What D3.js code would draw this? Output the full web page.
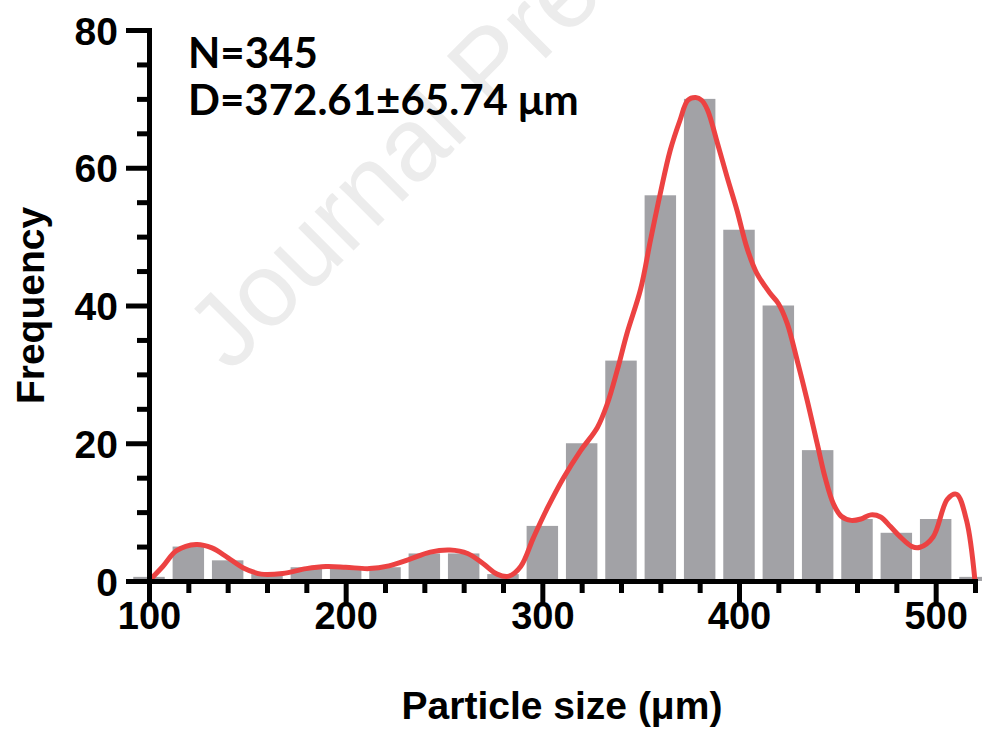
<!DOCTYPE html>
<html>
<head>
<meta charset="utf-8">
<script src="https://cdn.jsdelivr.net/npm/d3@7"></script>
<style>
  body { margin: 0; background: #fff; }
  svg text { font-family: "Liberation Sans", Arial, sans-serif; font-weight: bold; fill: #000; }
</style>
</head>
<body>
<div id="chart"></div>
<script>

// histogram bins (bin centre, um) and counts
let binCenters = [100, 120, 140, 160, 180, 200, 220, 240, 260, 280, 300,
  320, 340, 360, 380, 400, 420, 440, 460, 480, 500, 520];
let counts = [0.6, 5, 3, 1, 2, 2, 2, 4, 4, 1, 8,
  20, 32, 56, 70, 51, 40, 19, 9, 7, 9, 0.6];

// fitted distribution curve
let curveX = [100, 107, 114, 124, 132, 140, 148, 157, 168, 180, 190, 200, 212, 222, 232,
  243, 253, 262, 270, 277, 283, 289, 295.5, 302.6, 310.8, 319.4, 328, 333, 338, 343,
  350, 355, 360, 365, 370, 374, 378, 381, 384, 389, 394, 399, 404, 409, 416, 420,
  424.5, 429.6, 434.7, 439.8, 443.8, 448, 452, 457, 462, 467, 472, 477, 482, 488,
  492, 498.7, 506, 510.6, 515.7, 520];
let curveY = [0, 2.1, 4.4, 5.3, 4.8, 3.4, 1.9, 1.0, 1.1, 1.8, 2.1, 2.0, 1.8, 2.2, 3.1,
  4.2, 4.5, 4.0, 2.5, 1.0, 0.7, 2.1, 6.3, 10.6, 15.0, 18.9, 22.3, 25.7, 30.5, 35.9,
  42.4, 49.5, 56.3, 62.5, 66.9, 69.8, 70.2, 69.8, 68.4, 63.6, 58.6, 53.8, 48.4, 44.7, 41.7, 40.3,
  37.4, 32, 26.2, 19.9, 15, 11.2, 9.4, 8.8, 9.0, 9.6, 9.3, 7.9, 6.4, 5.0,
  4.9, 6.4, 11.9, 12.6, 8.8, 0];

// axis ticks
let xMajorTicks = [100, 200, 300, 400, 500];
let xMinorTicks = [120, 140, 160, 180, 220, 240, 260, 280, 320, 340, 360, 380,
  420, 440, 460, 480, 520];
let yMajorTicks = [0, 20, 40, 60, 80];
let yMinorTicks = [5, 10, 15, 25, 30, 35, 45, 50, 55, 65, 70, 75];

let infoLines = ["N=345", "D=372.61\u00b165.74 \u03bcm"];

let width = 982, height = 731;
let barColor = "#a2a2a6";
let lineColor = "#ec4242";

let svg = d3.select("#chart").append("svg")
  .attr("width", width)
  .attr("height", height);

let x = d3.scaleLinear().domain([100, 520]).range([149, 975]);
let y = d3.scaleLinear().domain([0, 80]).range([581, 30]);
let binW = x(120) - x(100);

// watermark (runs off the top edge, as in the source page)
svg.append("text")
  .attr("transform", "translate(230,374) rotate(-45)")
  .style("font-family", "'Liberation Sans', Arial, sans-serif")
  .style("font-weight", "normal")
  .style("font-size", "104px")
  .style("fill", "#ececec")
  .text("Journal Pre-proof");

// bars
svg.append("g")
  .selectAll("rect")
  .data(binCenters)
  .enter().append("rect")
  .attr("x", (d) => x(d) - binW * 0.4)
  .attr("width", binW * 0.8)
  .attr("y", (d, i) => y(counts[i]))
  .attr("height", (d, i) => y(0) - y(counts[i]))
  .attr("fill", barColor);

// curve
let line = d3.line()
  .x((d) => x(d))
  .y((d, i) => y(curveY[i]))
  .curve(d3.curveCatmullRom.alpha(0.5));

svg.append("path")
  .datum(curveX)
  .attr("d", line)
  .attr("fill", "none")
  .attr("stroke", lineColor)
  .attr("stroke-width", 5)
  .attr("stroke-linejoin", "round");

///////////////////////////// axes /////////////////////////////

function styleAxis(g) {
  g.selectAll("line").attr("stroke", "#000").attr("stroke-width", 5);
  g.select(".domain").attr("stroke", "#000").attr("stroke-width", 5)
    .attr("stroke-linecap", "square");
}

// x axis
let gx = svg.append("g").attr("transform", "translate(0," + y(0) + ")");
gx.append("g")
  .call(d3.axisBottom(x).tickValues(xMinorTicks).tickSize(12).tickSizeOuter(0).tickFormat(""))
  .call(styleAxis);
gx.append("g")
  .call(d3.axisBottom(x).tickValues(xMajorTicks).tickSize(23).tickSizeOuter(0))
  .call(styleAxis)
  .call((g) => g.selectAll("text")
    .attr("y", 48).attr("dy", 0)
    .style("font-size", "38px"));

// y axis
let gy = svg.append("g").attr("transform", "translate(" + x(100) + ",0)");
gy.append("g")
  .call(d3.axisLeft(y).tickValues(yMinorTicks).tickSize(12).tickSizeOuter(0).tickFormat(""))
  .call(styleAxis);
gy.append("g")
  .call(d3.axisLeft(y).tickValues(yMajorTicks).tickSize(23).tickSizeOuter(0))
  .call(styleAxis)
  .call((g) => g.selectAll("text")
    .attr("x", -31).attr("dy", "0.36em")
    .style("font-size", "39px"));

// axis titles
svg.append("text")
  .attr("x", (x(100) + x(520)) / 2)
  .attr("y", 719)
  .attr("text-anchor", "middle")
  .style("font-size", "39px")
  .text("Particle size (\u03bcm)");

svg.append("text")
  .attr("transform", "translate(44," + (y(0) + y(80)) / 2 + ") rotate(-90)")
  .attr("text-anchor", "middle")
  .style("font-size", "39px")
  .text("Frequency");

// N and D annotation
svg.append("g")
  .selectAll("text")
  .data(infoLines)
  .enter().append("text")
  .attr("x", 188)
  .attr("y", (d, i) => 68 + i * 47)
  .style("font-family", "Lato, 'Open Sans', sans-serif")
  .style("font-size", "42px")
  .text((d) => d);

</script>
</body>
</html>
